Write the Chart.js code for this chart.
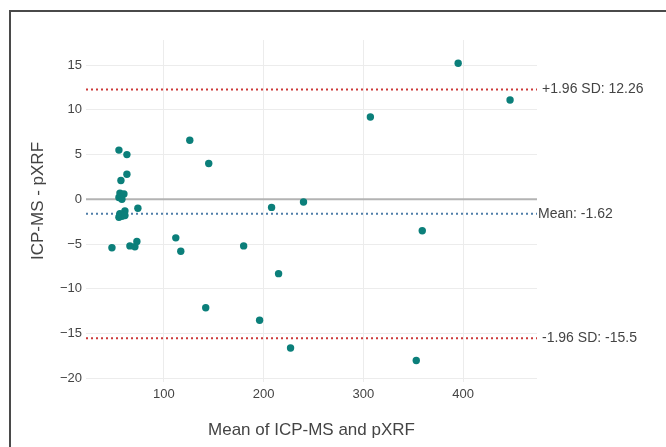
<!DOCTYPE html>
<html>
<head>
<meta charset="utf-8">
<script src="https://cdn.jsdelivr.net/npm/chart.js@4.4.1/dist/chart.umd.min.js"></script>
<style>
  body { margin: 0; background: #fff; }
  #wrap { position: relative; width: 666px; height: 447px; overflow: hidden; }
  #frame { position: absolute; left: 9px; top: 10px; width: 700px; height: 500px;
           border-left: 2px solid #4a4a4a; border-top: 2px solid #4a4a4a; pointer-events: none; }
</style>
</head>
<body>
<div id="wrap">
  <canvas id="chart" width="666" height="447"></canvas>
  <div id="frame"></div>
</div>
<script>
// mean of the two methods (x) and their difference (y)
const meanVals = [48, 55, 63, 63, 57, 56, 60, 55, 58, 74, 61, 55, 58, 56, 61, 66, 71, 73,
                  112, 117, 126, 145, 180, 208, 240, 215, 142, 196, 227, 395, 447, 307, 359, 353];
const diffVals = [-5.4, 5.5, 5.0, 2.8, 2.1, 0.7, 0.6, 0.2, 0.0, -1.0, -1.3, -2.0, -1.9, -1.6, -1.8, -5.2, -5.3, -4.7,
                  -4.3, -5.8, 6.6, 4.0, -5.2, -0.9, -0.3, -8.3, -12.1, -13.5, -16.6, 15.2, 11.1, 9.2, -3.5, -18.0];

const limitValues = [12.26, -1.62, -15.5];
const limitLabels = ['+1.96 SD: 12.26', 'Mean: -1.62', '-1.96 SD: -15.5'];
const limitColors = ['#cc3a3a', '#4f7ea8', '#cc3a3a'];

const xTicks = [100, 200, 300, 400];
const yTicks = [-20, -15, -10, -5, 0, 5, 10, 15];

const FONT = '"Liberation Sans", Arial, sans-serif';

const points = meanVals.map((m, i) => ({ x: m, y: diffVals[i] }));

const refLines = {
  id: 'refLines',
  beforeDatasetsDraw(chart) {
    const { ctx, chartArea } = chart;
    const ys = chart.scales.y;
    ctx.save();
    // zero line
    let y0 = ys.getPixelForValue(0);
    ctx.strokeStyle = '#b3b3b3';
    ctx.lineWidth = 2;
    ctx.beginPath();
    ctx.moveTo(chartArea.left, y0);
    ctx.lineTo(chartArea.right, y0);
    ctx.stroke();
    // limits of agreement
    ctx.lineWidth = 2;
    ctx.setLineDash([2, 3]);
    limitValues.forEach((v, i) => {
      const py = ys.getPixelForValue(v);
      ctx.strokeStyle = limitColors[i];
      ctx.beginPath();
      ctx.moveTo(chartArea.left, py);
      ctx.lineTo(chartArea.right, py);
      ctx.stroke();
    });
    ctx.setLineDash([]);
    ctx.restore();
  },
  afterDraw(chart) {
    const { ctx, chartArea } = chart;
    const ys = chart.scales.y;
    ctx.save();
    ctx.fillStyle = '#444';
    ctx.font = '14px ' + FONT;
    ctx.textBaseline = 'middle';
    ctx.textAlign = 'left';
    limitValues.forEach((v, i) => {
      const off = i == 1 ? 1 : 5;
      ctx.fillText(limitLabels[i], chartArea.right + off, ys.getPixelForValue(v));
    });
    // axis titles
    ctx.font = '17px ' + FONT;
    ctx.textAlign = 'center';
    ctx.fillText('Mean of ICP-MS and pXRF', (chartArea.left + chartArea.right) / 2, chartArea.bottom + 48);
    ctx.translate(38, (chartArea.top + chartArea.bottom) / 2 - 10);
    ctx.rotate(-Math.PI / 2);
    ctx.fillText('ICP-MS - pXRF', 0, 0);
    ctx.restore();
  }
};

new Chart(document.getElementById('chart'), {
  type: 'scatter',
  data: {
    datasets: [{
      data: points,
      backgroundColor: '#0b7f7a',
      borderWidth: 0,
      pointRadius: 3.7
    }]
  },
  options: {
    responsive: false,
    animation: false,
    devicePixelRatio: 1,
    layout: { padding: { top: 40, right: 129, left: 0, bottom: 0 } },
    plugins: { legend: { display: false }, tooltip: { enabled: false } },
    scales: {
      x: {
        type: 'linear',
        min: 22, max: 474,
        afterFit: s => { s.height = 65; },
        afterBuildTicks: s => { s.ticks = xTicks.map(v => ({ value: v })); },
        grid: { color: '#ececec', lineWidth: 1, drawTicks: false },
        border: { display: false },
        ticks: { color: '#444', font: { family: FONT, size: 13 }, padding: 5 }
      },
      y: {
        min: -20.4, max: 17.8,
        afterFit: s => { s.width = 86; },
        afterBuildTicks: s => { s.ticks = yTicks.map(v => ({ value: v })); },
        grid: { color: c => c.tick && c.tick.value === 0 ? 'rgba(0,0,0,0)' : '#ececec', lineWidth: 1, drawTicks: false },
        border: { display: false },
        ticks: {
          color: '#444', font: { family: FONT, size: 13 }, padding: 4,
          callback: v => String(v).replace('-', '\u2212')
        }
      }
    }
  },
  plugins: [refLines]
});
</script>
</body>
</html>
